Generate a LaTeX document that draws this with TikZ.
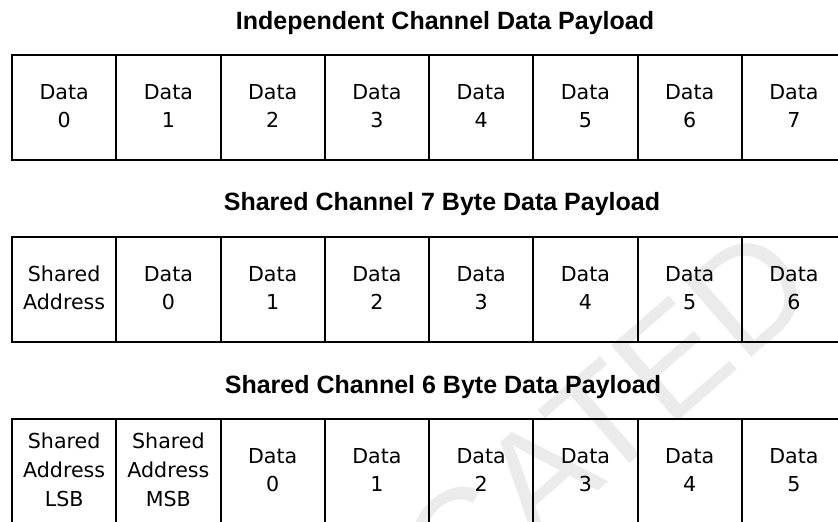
\documentclass[tikz,border=0pt]{standalone}
\usepackage{fontspec}
\setmainfont{DejaVu Sans}
\newfontfamily\headfont{Liberation Sans}
\usepackage{tikz}

\tikzset{%
  cell/.style={draw, line width=1pt, minimum width=52.125pt, minimum height=52.5pt,
    inner sep=0pt, align=center, font=\fontsize{10.3}{14}\selectfont},%
  head/.style={anchor=base, font=\headfont\bfseries\fontsize{12.5}{15}\selectfont},%
  stamp/.style={anchor=base east, rotate=41, text=black!8,
    font=\headfont\fontsize{73}{73}\selectfont}%
}

\begin{document}
\begin{tikzpicture}[x=0.5pt,y=-0.5pt]
      \useasboundingbox (0,0) rectangle (838,521);%
      \clip (0,0) rectangle (838,521);%

      \def\cellw{104.25} \def\xo{12}%

      % watermark, behind everything
      \node[stamp] (stamp) at (827,292) {DEPRECATED};%

      \node[head] (head_ind) at (445,29) {Independent Channel Data Payload};%
      \node[head] (head_sev) at (442,210) {Shared Channel 7 Byte Data Payload};%
      \node[head] (head_six) at (443,393) {Shared Channel 6 Byte Data Payload};%

      \foreach \i in {0,...,7} {%
        \node[cell] (ind_\i) at ({\xo+\cellw*(\i+0.5)},107.5) {\strut Data\\\i\strut}; }%

      \node[cell] (sev_0) at ({\xo+\cellw*0.5},289.5) {\strut Shared\\Address\strut};%
      \foreach \i/\n in {1/0, 2/1, 3/2, 4/3, 5/4, 6/5, 7/6} {%
        \node[cell] (sev_\i) at ({\xo+\cellw*(\i+0.5)},289.5) {\strut Data\\\n\strut}; }%

      \foreach \i/\kl in {0/LSB, 1/MSB} {%
        \node[cell, font=\fontsize{10.3}{14.5}\selectfont] (six_\i)
          at ({\xo+\cellw*(\i+0.5)},471.5) {\strut Shared\\Address\\\kl\strut}; }%
      \foreach \i/\n in {2/0, 3/1, 4/2, 5/3, 6/4, 7/5} {%
        \node[cell] (six_\i) at ({\xo+\cellw*(\i+0.5)},471.5) {\strut Data\\\n\strut}; }%
\end{tikzpicture}
\end{document}
